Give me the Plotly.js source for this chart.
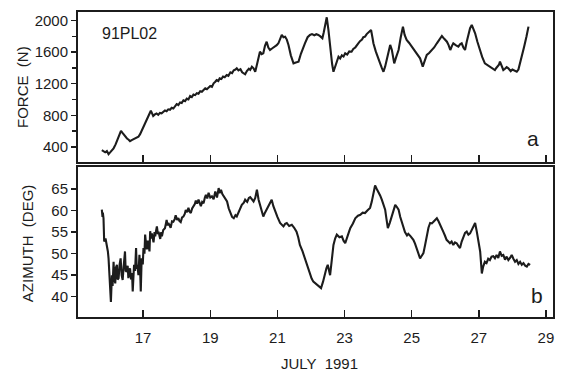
<!DOCTYPE html>
<html>
<head>
<meta charset="utf-8">
<script src="https://cdn.plot.ly/plotly-3.0.1.min.js"></script>
<style>
  html, body { margin: 0; padding: 0; background: #ffffff; }
  #chart { width: 564px; height: 372px; }
</style>
</head>
<body>
<div id="chart"></div>
<script>
// Panel a: mooring line force, 91PL02 (day of July 1991, newtons)
const forceDay = [
  15.77, 15.82, 15.87, 15.92, 15.97, 16.03, 16.08, 16.12, 16.18, 16.24, 16.30, 16.34, 16.38, 16.43, 16.47,
  16.52, 16.57, 16.61, 16.66, 16.72, 16.78, 16.82, 16.86, 16.91, 16.96, 17.01, 17.06, 17.12, 17.18, 17.23,
  17.27, 17.30, 17.35, 17.40, 17.45, 17.50, 17.55, 17.60, 17.65, 17.70, 17.75, 17.80, 17.85, 17.90, 17.95,
  18.00, 18.05, 18.10, 18.15, 18.20, 18.25, 18.30, 18.35, 18.40, 18.45, 18.50, 18.55, 18.60, 18.65, 18.70,
  18.75, 18.80, 18.85, 18.90, 18.95, 19.00, 19.05, 19.10, 19.15, 19.19, 19.24, 19.28, 19.33, 19.38, 19.43,
  19.49, 19.54, 19.60, 19.65, 19.70, 19.75, 19.79, 19.84, 19.90, 19.95, 20.00, 20.04, 20.09, 20.15, 20.19,
  20.24, 20.29, 20.34, 20.40, 20.44, 20.48, 20.53, 20.58, 20.63, 20.68, 20.73, 20.78, 20.85, 20.93, 20.98,
  21.03, 21.08, 21.13, 21.18, 21.23, 21.28, 21.33, 21.40, 21.48, 21.55, 21.63, 21.70, 21.76, 21.82, 21.90,
  21.97, 22.03, 22.10, 22.16, 22.22, 22.28, 22.34, 22.38, 22.42, 22.47, 22.52, 22.58, 22.63, 22.67, 22.72,
  22.77, 22.82, 22.87, 22.92, 22.97, 23.02, 23.08, 23.14, 23.21, 23.26, 23.32, 23.36, 23.41, 23.46, 23.52,
  23.56, 23.61, 23.66, 23.72, 23.79, 23.83, 23.86, 23.93, 23.98, 24.01, 24.06, 24.11, 24.16, 24.21, 24.26,
  24.31, 24.36, 24.41, 24.45, 24.48, 24.54, 24.61, 24.67, 24.71, 24.74, 24.79, 24.85, 24.92, 25.00, 25.07,
  25.15, 25.20, 25.25, 25.29, 25.33, 25.38, 25.45, 25.52, 25.60, 25.67, 25.75, 25.82, 25.90, 25.97, 26.05,
  26.10, 26.15, 26.20, 26.24, 26.31, 26.39, 26.44, 26.49, 26.54, 26.59, 26.64, 26.69, 26.74, 26.79, 26.84,
  26.89, 26.96, 27.03, 27.10, 27.18, 27.25, 27.33, 27.40, 27.48, 27.52, 27.55, 27.60, 27.63, 27.68, 27.73,
  27.78, 27.83, 27.88, 27.95, 28.00, 28.03, 28.08, 28.13, 28.18, 28.23, 28.29, 28.35, 28.42, 28.48
];
const forceN = [
  358, 340, 330, 345, 307, 335, 360, 380, 430, 490, 560, 603, 580, 550, 527,
  505, 490, 472, 485, 495, 505, 515, 527, 560, 610, 660, 697, 760, 820, 857,
  820, 790, 810, 822, 805, 830, 825, 845, 860, 850, 875, 870, 895, 885, 915,
  942, 930, 962, 955, 990, 980, 1010, 1000, 1044, 1030, 1062, 1055, 1080, 1072, 1105,
  1098, 1125, 1142, 1130, 1155, 1170, 1160, 1205, 1225, 1247, 1235, 1268, 1260, 1290, 1282,
  1311, 1300, 1345, 1335, 1370, 1380, 1396, 1370, 1385, 1345, 1330, 1320, 1360, 1390, 1375,
  1416, 1395, 1352, 1460, 1560, 1606, 1575, 1586, 1680, 1733, 1660, 1628, 1650, 1670, 1690,
  1713, 1760, 1819, 1790, 1797, 1760, 1692, 1560, 1459, 1470, 1480, 1580, 1660, 1713, 1790,
  1819, 1830, 1815, 1828, 1819, 1800, 1777, 1850, 1924, 2043, 1882, 1620, 1450, 1352, 1420,
  1500, 1543, 1520, 1560, 1545, 1586, 1570, 1610, 1606, 1640, 1660, 1690, 1713, 1740, 1760,
  1790, 1797, 1830, 1850, 1882, 1790, 1713, 1610, 1560, 1522, 1459, 1400, 1352, 1420, 1501,
  1600, 1692, 1628, 1530, 1459, 1540, 1628, 1780, 1880, 1924, 1820, 1755, 1720, 1670, 1630,
  1586, 1560, 1522, 1470, 1416, 1480, 1565, 1590, 1628, 1660, 1713, 1760, 1806, 1770, 1733,
  1690, 1628, 1680, 1713, 1690, 1670, 1700, 1713, 1660, 1628, 1733, 1830, 1904, 1946, 1900,
  1840, 1730, 1628, 1540, 1459, 1440, 1416, 1395, 1374, 1400, 1420, 1440, 1480, 1420, 1374,
  1390, 1410, 1395, 1360, 1380, 1374, 1360, 1352, 1380, 1459, 1560, 1670, 1800, 1924
];

// Panel b: line azimuth (day of July 1991, degrees)
const azDay = [
  15.77, 15.79, 15.80, 15.82, 15.83, 15.84, 15.88, 15.92, 15.95, 15.97, 16.00, 16.04, 16.06, 16.07, 16.09,
  16.12, 16.14, 16.17, 16.19, 16.22, 16.24, 16.27, 16.30, 16.33, 16.36, 16.39, 16.42, 16.46, 16.48, 16.51,
  16.54, 16.56, 16.59, 16.61, 16.64, 16.67, 16.69, 16.71, 16.73, 16.76, 16.79, 16.81, 16.83, 16.86, 16.89,
  16.91, 16.93, 16.95, 16.96, 16.99, 17.01, 17.04, 17.06, 17.09, 17.11, 17.14, 17.16, 17.19, 17.21, 17.24,
  17.26, 17.29, 17.31, 17.34, 17.36, 17.39, 17.41, 17.44, 17.46, 17.49, 17.51, 17.54, 17.56, 17.60, 17.65,
  17.68, 17.70, 17.73, 17.75, 17.79, 17.82, 17.86, 17.90, 17.94, 17.97, 18.01, 18.05, 18.08, 18.12, 18.16,
  18.20, 18.24, 18.27, 18.31, 18.35, 18.38, 18.42, 18.46, 18.50, 18.54, 18.57, 18.61, 18.65, 18.69, 18.72,
  18.76, 18.80, 18.84, 18.87, 18.91, 18.95, 19.00, 19.05, 19.10, 19.15, 19.20, 19.25, 19.28, 19.32, 19.36,
  19.40, 19.45, 19.50, 19.55, 19.60, 19.65, 19.70, 19.75, 19.79, 19.85, 19.90, 19.94, 20.00, 20.04, 20.10,
  20.15, 20.19, 20.24, 20.29, 20.34, 20.39, 20.44, 20.49, 20.53, 20.58, 20.63, 20.68, 20.73, 20.78, 20.83,
  20.88, 20.93, 21.00, 21.08, 21.13, 21.18, 21.23, 21.28, 21.35, 21.43, 21.50, 21.57, 21.62, 21.67, 21.75,
  21.82, 21.90, 21.97, 22.02, 22.07, 22.15, 22.22, 22.26, 22.30, 22.36, 22.42, 22.46, 22.50, 22.53, 22.57,
  22.62, 22.67, 22.72, 22.77, 22.85, 22.92, 22.97, 23.02, 23.10, 23.17, 23.25, 23.32, 23.40, 23.47, 23.54,
  23.61, 23.68, 23.76, 23.81, 23.86, 23.91, 23.96, 24.01, 24.06, 24.11, 24.16, 24.21, 24.25, 24.29, 24.35,
  24.41, 24.46, 24.51, 24.56, 24.61, 24.66, 24.71, 24.76, 24.80, 24.86, 24.90, 24.97, 25.05, 25.10, 25.15,
  25.20, 25.25, 25.30, 25.35, 25.40, 25.45, 25.50, 25.55, 25.60, 25.65, 25.70, 25.75, 25.80, 25.84, 25.89,
  25.94, 25.99, 26.04, 26.09, 26.14, 26.19, 26.24, 26.29, 26.34, 26.39, 26.44, 26.49, 26.54, 26.59, 26.64,
  26.69, 26.74, 26.80, 26.85, 26.89, 26.94, 26.99, 27.04, 27.07, 27.09, 27.13, 27.18, 27.23, 27.28, 27.33,
  27.38, 27.43, 27.48, 27.53, 27.58, 27.63, 27.68, 27.73, 27.78, 27.83, 27.88, 27.93, 27.98, 28.03, 28.08,
  28.13, 28.18, 28.23, 28.28, 28.33, 28.38, 28.43, 28.48, 28.53
];
const azDeg = [
  60.2, 58.5, 59.5, 58.2, 55.0, 52.8, 53.5, 52.0, 50.5, 48.9, 44.0, 38.8, 43.0, 45.0, 42.5,
  48.1, 44.5, 43.1, 46.8, 47.4, 44.0, 44.3, 47.5, 48.9, 45.0, 43.9, 47.0, 50.5, 46.0, 45.8,
  47.2, 44.3, 46.0, 46.6, 44.0, 45.5, 41.2, 45.0, 47.4, 46.0, 51.3, 46.5, 47.4, 45.0, 49.7,
  46.5, 41.2, 47.0, 48.9, 47.5, 51.3, 50.0, 54.4, 52.0, 51.0, 53.0, 52.0, 50.5, 55.2, 53.5,
  54.7, 53.2, 52.6, 55.0, 54.0, 55.5, 56.3, 54.5, 55.1, 54.0, 53.4, 55.0, 54.0, 55.5, 55.9,
  57.0, 57.8, 56.5, 57.1, 56.5, 56.0, 57.5, 57.4, 58.0, 58.9, 57.8, 58.2, 57.6, 57.3, 58.4,
  58.6, 59.2, 60.1, 59.6, 60.6, 59.8, 59.4, 60.5, 60.9, 61.5, 62.3, 61.6, 62.5, 61.8, 61.0,
  62.0, 61.7, 63.0, 63.6, 62.8, 64.1, 63.0, 63.3, 62.6, 64.4, 63.0, 65.2, 64.0, 64.8, 63.8,
  63.3, 62.8, 62.1, 60.5, 59.4, 58.5, 58.2, 58.9, 58.6, 59.8, 60.5, 61.3, 61.8, 62.5, 62.0,
  62.9, 63.1, 62.6, 62.1, 62.9, 64.8, 62.5, 60.9, 59.8, 58.6, 59.5, 60.2, 61.0, 61.5, 62.5,
  61.0, 59.8, 58.5, 57.1, 56.8, 56.3, 56.9, 57.1, 56.4, 56.7, 56.0, 55.1, 53.8, 52.0, 50.5,
  48.9, 47.0, 45.0, 44.2, 43.5, 43.0, 42.7, 42.3, 42.0, 43.5, 45.8, 46.6, 47.4, 46.0, 45.0,
  48.5, 52.0, 53.5, 54.4, 53.8, 54.0, 53.0, 52.4, 54.3, 55.9, 57.0, 58.2, 58.8, 59.0, 59.5,
  59.4, 60.0, 60.6, 62.0, 63.7, 65.8, 65.0, 64.4, 63.5, 62.5, 61.5, 60.2, 58.0, 55.9, 57.2,
  58.6, 60.0, 61.3, 60.8, 60.2, 58.5, 57.1, 55.8, 55.0, 54.2, 54.6, 54.0, 53.2, 52.3, 51.3,
  50.0, 48.9, 49.5, 50.1, 52.0, 54.4, 56.0, 57.1, 57.0, 57.4, 57.8, 58.2, 57.5, 56.7, 56.0,
  55.1, 54.2, 53.2, 52.8, 52.4, 52.8, 52.0, 52.6, 52.4, 51.8, 51.3, 52.8, 54.0, 54.8, 55.1,
  54.4, 54.7, 55.8, 56.5, 57.1, 55.1, 52.5, 50.5, 47.5, 45.4, 47.0, 48.1, 47.8, 48.8, 48.5,
  49.3, 49.4, 48.9, 49.7, 49.0, 50.5, 49.5, 49.7, 48.6, 49.3, 48.5, 49.0, 49.7, 48.8, 48.1,
  48.5, 47.6, 48.1, 47.4, 47.8, 47.2, 47.0, 47.6, 47.4
];

const xTicks = [17, 19, 21, 23, 25, 27, 29];
const forceTicks = [400, 800, 1200, 1600, 2000];
const forceMinorTicks = [600, 1000, 1400, 1800];
const azTicks = [40, 45, 50, 55, 60, 65];

const ink = '#1c1c1c';
const font = 'Liberation Sans, Arial, Helvetica, sans-serif';

const traces = [
  { x: forceDay, y: forceN, xaxis: 'x2', yaxis: 'y2', type: 'scatter', mode: 'lines',
    line: { color: ink, width: 2.1 }, hoverinfo: 'skip' },
  { x: azDay, y: azDeg, xaxis: 'x', yaxis: 'y', type: 'scatter', mode: 'lines',
    line: { color: ink, width: 2.1 }, hoverinfo: 'skip' }
];

const xBase = {
  range: [15.06, 29.21], tickvals: xTicks, ticks: 'inside', ticklen: 7, tickwidth: 1.5,
  tickcolor: ink, showline: true, mirror: true, linewidth: 2, linecolor: ink,
  showgrid: false, zeroline: false
};

const layout = {
  width: 564, height: 372,
  margin: { l: 78, r: 11, t: 12, b: 55 },
  paper_bgcolor: '#ffffff', plot_bgcolor: '#ffffff',
  showlegend: false,
  font: { family: font, size: 15, color: ink },
  xaxis: Object.assign({}, xBase, { anchor: 'y', domain: [0, 1], ticklabelstandoff: 6,
    tickfont: { family: font, size: 15, color: ink } }),
  xaxis2: Object.assign({}, xBase, { anchor: 'y2', domain: [0, 1], matches: 'x', showticklabels: false }),
  yaxis: {
    domain: [0, 0.492], anchor: 'x', range: [35.3, 70.1], tickvals: azTicks,
    ticks: 'outside', ticklen: 5, tickwidth: 1.5, tickcolor: ink,
    showline: true, mirror: true, linewidth: 2, linecolor: ink,
    showgrid: false, zeroline: false, tickfont: { family: font, size: 15, color: ink }
  },
  yaxis2: {
    domain: [0.508, 1], anchor: 'x2', range: [206, 2110], tickvals: forceTicks,
    ticks: 'outside', ticklen: 5, tickwidth: 1.5, tickcolor: ink,
    minor: { tickvals: forceMinorTicks, ticks: 'outside', ticklen: 4, tickwidth: 1.2, tickcolor: ink, showgrid: false },
    showline: true, mirror: true, linewidth: 2, linecolor: ink,
    showgrid: false, zeroline: false, tickfont: { family: font, size: 15, color: ink }
  },
  annotations: [
    { text: 'FORCE  (N)', xref: 'paper', yref: 'paper', x: -0.118, y: 0.754, textangle: -90,
      showarrow: false, xanchor: 'center', yanchor: 'middle', font: { family: font, size: 15, color: ink } },
    { text: 'AZIMUTH  (DEG)', xref: 'paper', yref: 'paper', x: -0.106, y: 0.241, textangle: -90,
      showarrow: false, xanchor: 'center', yanchor: 'middle', font: { family: font, size: 15, color: ink } },
    { text: 'JULY  1991', xref: 'paper', yref: 'paper', x: 0.509, y: -0.154,
      showarrow: false, xanchor: 'center', yanchor: 'middle', font: { family: font, size: 15, color: ink } },
    { text: '91PL02', xref: 'paper', yref: 'paper', x: 0.046, y: 0.931,
      showarrow: false, xanchor: 'left', yanchor: 'middle', font: { family: font, size: 16, color: ink } },
    { text: 'a', xref: 'paper', yref: 'paper', x: 0.958, y: 0.584,
      showarrow: false, xanchor: 'center', yanchor: 'middle', font: { family: font, size: 21, color: ink } },
    { text: 'b', xref: 'paper', yref: 'paper', x: 0.966, y: 0.072,
      showarrow: false, xanchor: 'center', yanchor: 'middle', font: { family: font, size: 21, color: ink } }
  ]
};

Plotly.newPlot('chart', traces, layout, { staticPlot: true, displayModeBar: false });
</script>
</body>
</html>
